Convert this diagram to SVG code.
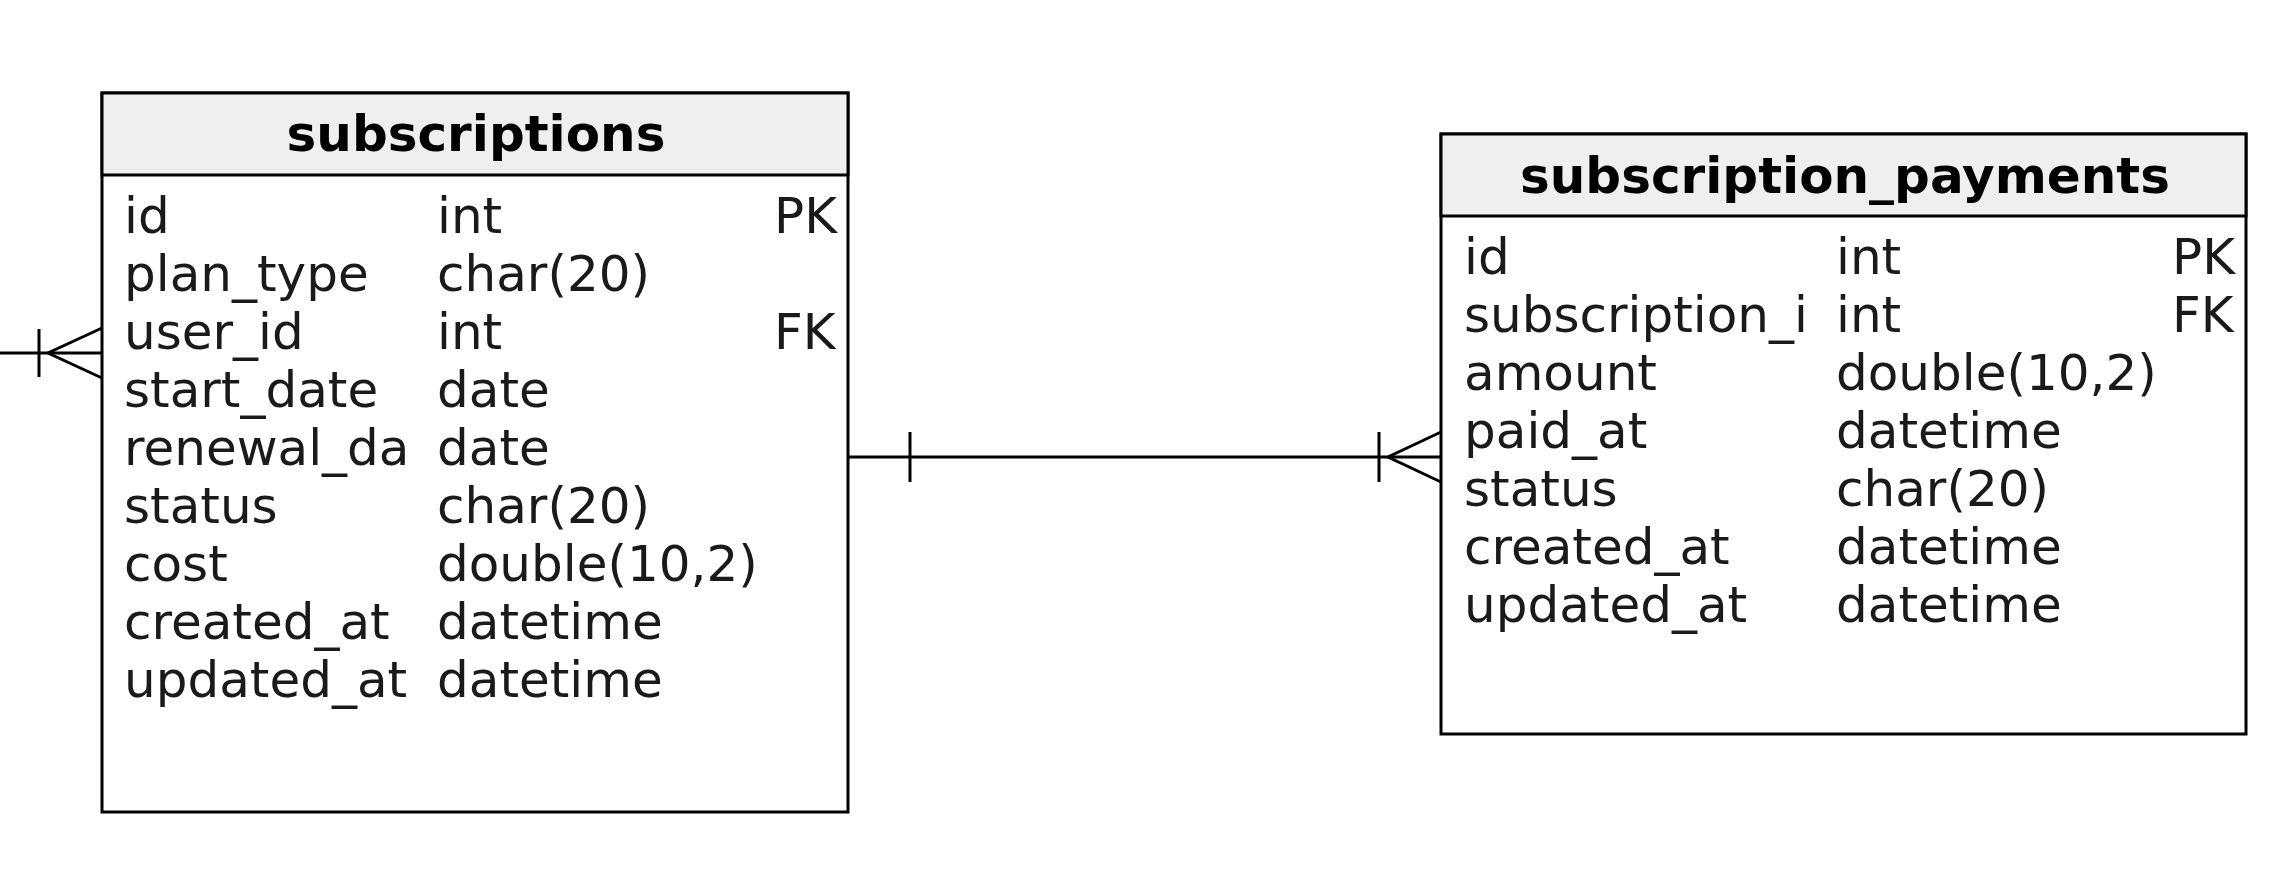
<svg xmlns="http://www.w3.org/2000/svg" width="2278" height="872" viewBox="0 0 2278 872">
<style>
.box{fill:#ffffff;stroke:#000000;stroke-width:3}
.hdr{fill:#efefef;stroke:#000000;stroke-width:3}
.title{font-family:"DejaVu Sans",sans-serif;font-size:50px;font-weight:bold;fill:#000000;text-anchor:middle}
.row{font-family:"DejaVu Sans",sans-serif;font-size:50px;fill:#1a1a1a}
.edge{fill:none;stroke:#000000;stroke-width:3}
</style>
<rect width="2278" height="872" fill="#ffffff"/>
<g id="subscriptions">
<rect class="box" x="102" y="93" width="746" height="719"/>
<rect class="hdr" x="102" y="93" width="746" height="82"/>
<text class="title" x="476" y="151">subscriptions</text>
<text class="row" x="124" y="233">id</text><text class="row" x="437" y="233">int</text><text class="row" x="774" y="233">PK</text>
<text class="row" x="124" y="291">plan_type</text><text class="row" x="437" y="291">char(20)</text>
<text class="row" x="124" y="349">user_id</text><text class="row" x="437" y="349">int</text><text class="row" x="774" y="349">FK</text>
<text class="row" x="124" y="407">start_date</text><text class="row" x="437" y="407">date</text>
<text class="row" x="124" y="465">renewal_da</text><text class="row" x="437" y="465">date</text>
<text class="row" x="124" y="523">status</text><text class="row" x="437" y="523">char(20)</text>
<text class="row" x="124" y="581">cost</text><text class="row" x="437" y="581">double(10,2)</text>
<text class="row" x="124" y="639">created_at</text><text class="row" x="437" y="639">datetime</text>
<text class="row" x="124" y="697">updated_at</text><text class="row" x="437" y="697">datetime</text>
</g>
<g id="subscription_payments">
<rect class="box" x="1441" y="134" width="805" height="600"/>
<rect class="hdr" x="1441" y="134" width="805" height="82"/>
<text class="title" x="1845" y="193">subscription_payments</text>
<text class="row" x="1464" y="274">id</text><text class="row" x="1836" y="274">int</text><text class="row" x="2172" y="274">PK</text>
<text class="row" x="1464" y="332">subscription_i</text><text class="row" x="1836" y="332">int</text><text class="row" x="2172" y="332">FK</text>
<text class="row" x="1464" y="390">amount</text><text class="row" x="1836" y="390">double(10,2)</text>
<text class="row" x="1464" y="448">paid_at</text><text class="row" x="1836" y="448">datetime</text>
<text class="row" x="1464" y="506">status</text><text class="row" x="1836" y="506">char(20)</text>
<text class="row" x="1464" y="564">created_at</text><text class="row" x="1836" y="564">datetime</text>
<text class="row" x="1464" y="622">updated_at</text><text class="row" x="1836" y="622">datetime</text>
</g>
<g id="connectors">
<path class="edge" d="M0 353 H102"/>
<path class="edge" d="M39 329 V377"/>
<path class="edge" d="M102 328 L48 353 L102 378"/>
<path class="edge" d="M849 457 H1441"/>
<path class="edge" d="M910 432 V482"/>
<path class="edge" d="M1379 432 V482"/>
<path class="edge" d="M1441 432 L1388 457 L1441 482"/>
</g>
</svg>
